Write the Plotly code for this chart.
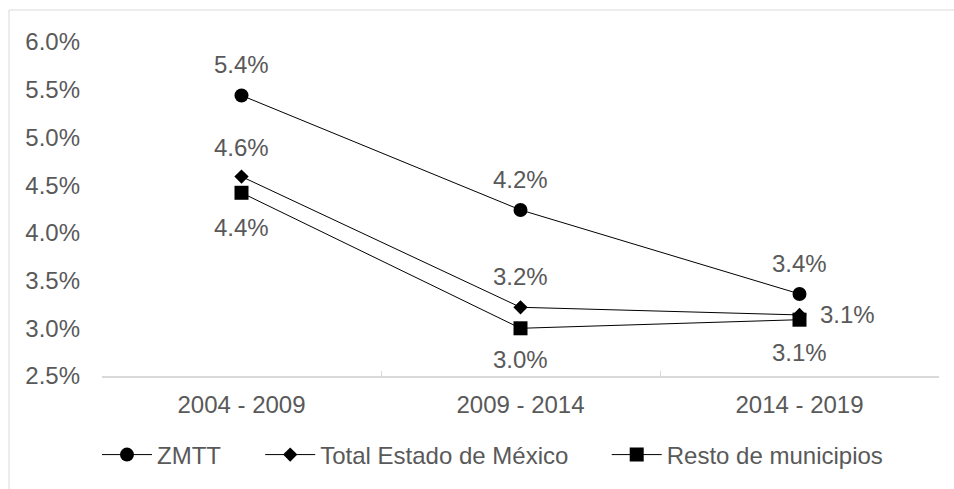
import plotly.graph_objects as go

categories = ["2004 - 2009", "2009 - 2014", "2014 - 2019"]
zmtt = [0.0544, 0.0424, 0.0336]
total_edomex = [0.0459, 0.0322, 0.0314]
resto = [0.0442, 0.0300, 0.0309]
series_names = ["ZMTT", "Total Estado de México", "Resto de municipios"]
y_ticks = [0.025, 0.03, 0.035, 0.04, 0.045, 0.05, 0.055, 0.06]

FONT = "Liberation Sans, Arial, sans-serif"
TXT = "#595959"
FS = 24

styles = [
    dict(symbol="circle", size=14, label_shift=[(0, 31), (0, 30), (0, 30)], legend="legend", lx=-0.006),
    dict(symbol="diamond", size=11, label_shift=[(0, 29), (0, 31), (48, 0)], legend="legend2", lx=0.189),
    dict(symbol="square", size=14, label_shift=[(0, -35), (0, -31), (0, -33)], legend="legend3", lx=0.603),
]

fig = go.Figure()
annotations = []
for name, vals, st in zip(series_names, [zmtt, total_edomex, resto], styles):
    fig.add_trace(go.Scatter(
        x=categories, y=vals, name=name, mode="lines+markers",
        line=dict(color="black", width=1),
        marker=dict(symbol=st["symbol"], size=st["size"], color="black"),
        legend=st["legend"],
    ))
    for c, v, (dx, dy) in zip(categories, vals, st["label_shift"]):
        annotations.append(dict(
            x=c, y=v, text=f"{v*100:.1f}%", showarrow=False,
            xshift=dx, yshift=dy,
            font=dict(family=FONT, size=FS, color=TXT),
        ))

legend_common = dict(orientation="h", yanchor="middle", y=-0.2365, xanchor="left",
                     font=dict(family=FONT, size=FS, color=TXT), itemwidth=50,
                     bgcolor="rgba(0,0,0,0)")

fig.update_layout(
    width=954, height=489,
    margin=dict(l=102, r=15, t=42, b=113),
    paper_bgcolor="white", plot_bgcolor="white",
    font=dict(family=FONT, size=FS, color=TXT),
    showlegend=True,
    legend=dict(x=styles[0]["lx"], **legend_common),
    legend2=dict(x=styles[1]["lx"], **legend_common),
    legend3=dict(x=styles[2]["lx"], **legend_common),
    annotations=annotations,
    shapes=[dict(type="rect", xref="paper", yref="paper",
                 x0=-0.1111, x1=1.2, y0=-0.5, y1=1.0958,
                 line=dict(color="#d9d9d9", width=1), layer="below")],
)
fig.update_xaxes(
    range=[-0.5, 2.5],
    showline=True, linecolor="#d9d9d9", linewidth=1.5,
    ticks="inside", ticklen=5, tickcolor="#d9d9d9", tickson="boundaries",
    showgrid=False, zeroline=False, ticklabelstandoff=6,
    tickfont=dict(family=FONT, size=FS, color=TXT),
)
fig.update_yaxes(
    range=[0.025, 0.06], tickvals=y_ticks, tickformat=".1%",
    showline=False, showgrid=False, zeroline=False, ticks="",
    ticklabelstandoff=21,
    tickfont=dict(family=FONT, size=FS, color=TXT),
)
fig.write_html("out.html")
